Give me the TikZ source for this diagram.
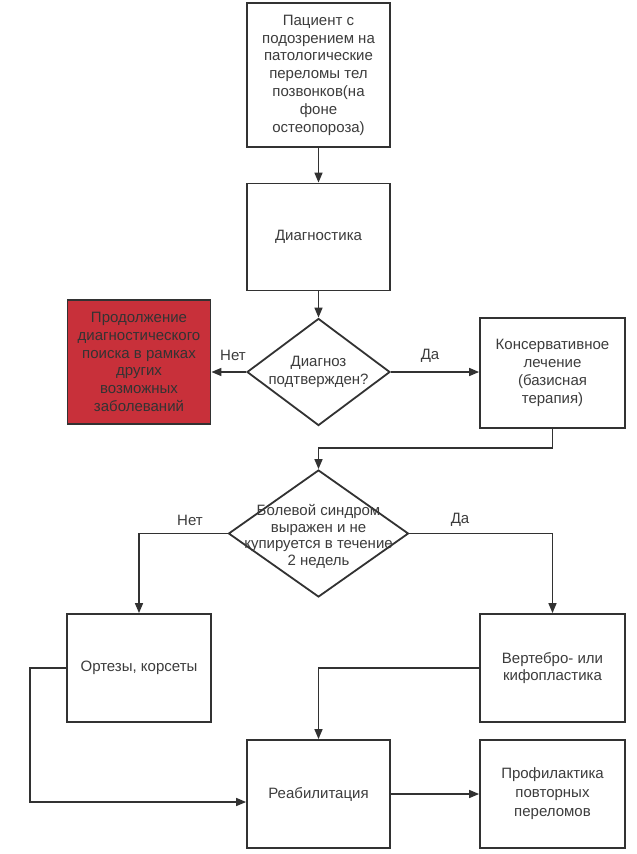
\documentclass[tikz,border=0pt]{standalone}
\usepackage{fontspec}
\setmainfont{Liberation Sans}
\usetikzlibrary{shapes.geometric,arrows.meta,calc}
\definecolor{redbox}{RGB}{200,48,58}
\definecolor{ink}{RGB}{60,60,60}
\definecolor{edge}{RGB}{50,50,50}
\tikzset{
  txtfont/.style={font=\fontsize{15}{17.8}\selectfont, text=ink},
  box/.style={draw=edge, line width=1.8pt, fill=white, minimum width=143pt,
    inner sep=0pt, align=center, txtfont},
  dia/.style={draw=edge, shape=diamond, line width=1.8pt, fill=white, inner sep=0pt},
  lbl/.style={align=center, txtfont, inner sep=0pt},
  conn/.style={draw=edge, line width=1.5pt, -{Triangle[length=10pt,width=8pt]}},
}
\begin{document}
\begin{tikzpicture}[x=1pt,y=-1pt]
\useasboundingbox[fill=white] (0,0) rectangle (637,854);

\node[box, minimum height=144pt] (b1) at (318.5,75)
  {Пациент с\\подозрением на\\патологические\\переломы тел\\позвонков(на\\фоне\\остеопороза)};
\node[box, minimum height=107pt] (b2) at (318.5,237) {Диагностика};
\node[dia, minimum width=143pt, minimum height=107pt] (d1) at (318.5,372) {};
\node[lbl] (t1) at (d1) {Диагноз\\подтвержден?};
\node[box, fill=redbox, text=black!80, minimum height=124pt] (red) at (139,362)
  {Продолжение\\диагностического\\поиска в рамках\\других\\возможных\\заболеваний};
\node[box, minimum width=145pt, minimum height=110pt] (b3) at (552.5,373)
  {Консервативное\\лечение\\(базисная\\терапия)};
\node[dia, minimum width=180pt, minimum height=127pt] (d2) at (318.5,533.5) {};
\node[lbl, font=\fontsize{15}{16.5}\selectfont] (t2) at ($(d2)+(0,3)$) {Болевой синдром\\выражен и не\\купируется в течение\\2 недель};
\node[box, minimum width=144pt, minimum height=108pt] (b4) at (139,668) {Ортезы, корсеты};
\node[box, minimum width=145pt, minimum height=108pt] (b5) at (552.5,668) {Вертебро- или\\кифопластика};
\node[box, minimum height=108pt] (b6) at (318.5,794) {Реабилитация};
\node[box, minimum width=145pt, minimum height=108pt, font=\fontsize{15}{19}\selectfont] (b7) at (552.5,794) {Профилактика\\повторных\\переломов};

\node[lbl] (l1) at (233,355) {Нет};
\node[lbl] (l2) at (430,356) {Да};
\node[lbl] (l3) at (190,520) {Нет};
\node[lbl] (l4) at (460,520) {Да};

\coordinate (j1) at ($(b4.west)+(-36,0)$);
\coordinate (j2) at ($(b6.west)+(0,8)$);

\draw[conn] (b1) -- (b2);
\draw[conn] (b2) -- (d1);
\draw[conn] (d1.west) -- (d1.west -| red.east);
\draw[conn] (d1.east) -- (d1.east -| b3.west);
\draw[conn] (b3.south) -- ++(0,19) -| (d2.north);
\draw[conn] (d2.west) -| (b4.north);
\draw[conn] (d2.east) -| (b5.north);
\draw[conn] (b4.west) -- (j1) |- (j2);
\draw[conn] (b5.west) -| (b6.north);
\draw[conn] (b6.east) -- (b7.west);
\end{tikzpicture}
\end{document}
